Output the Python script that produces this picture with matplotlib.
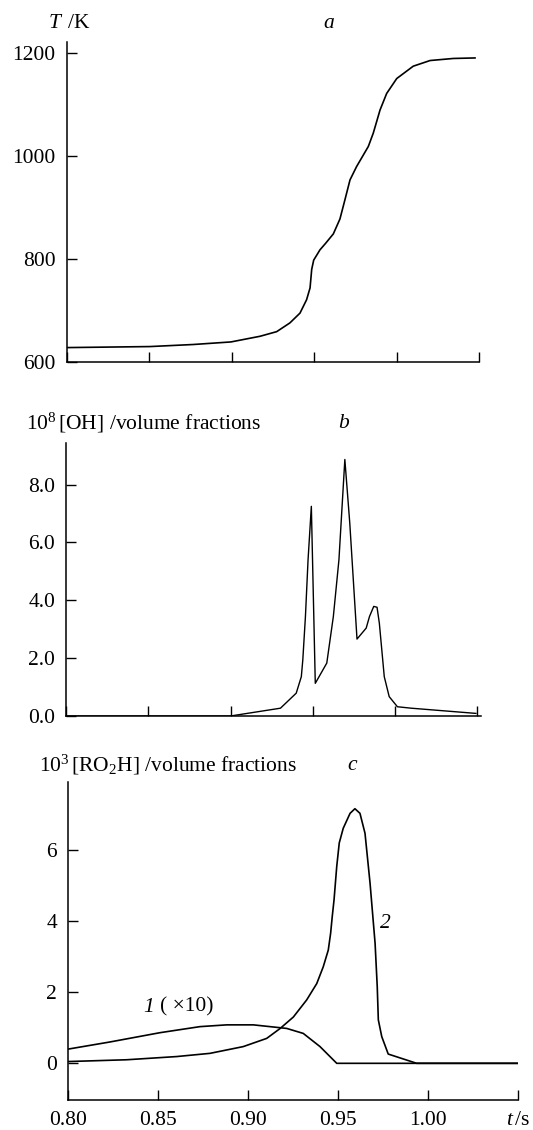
import matplotlib
matplotlib.use("Agg")
import matplotlib.pyplot as plt

# panel a: temperature
t_a = [0.800, 0.8505, 0.8767, 0.8996, 0.9172, 0.9273, 0.9353, 0.9414, 0.9454, 0.9475,
       0.9485, 0.9497, 0.9535, 0.9570, 0.9616, 0.9656, 0.9686, 0.9717, 0.9757, 0.9828,
       0.9858, 0.9899, 0.9939, 1.0000, 1.0100, 1.0202, 1.0343, 1.0474]
T_a = [628, 630, 634, 639, 650, 659, 676, 695, 721, 744,
       780, 798, 818, 831, 849, 878, 915, 954, 980, 1019,
       1045, 1090, 1122, 1151, 1175, 1186, 1190, 1191]

# panel b: OH
t_b = [0.80, 0.90, 0.9304, 0.9400, 0.9431, 0.9440, 0.9456, 0.9472, 0.9492, 0.9516,
       0.9586, 0.9626, 0.9660, 0.9696, 0.9726, 0.9770, 0.9826, 0.9846, 0.9872, 0.9892,
       0.9906, 0.9936, 0.9966, 1.0016, 1.010, 1.0494]
oh_b = [0.0, 0.0, 0.27, 0.79, 1.36, 1.94, 3.44, 5.40, 7.25, 1.13,
        1.83, 3.44, 5.40, 8.87, 6.67, 2.66, 3.04, 3.44, 3.79, 3.76,
        3.21, 1.36, 0.67, 0.32, 0.27, 0.09]

# panel c: RO2H, curve 1 (x10) and curve 2
t_c1 = [0.80, 0.8232, 0.8509, 0.8731, 0.888, 0.9028, 0.9213, 0.9305, 0.9398, 0.9491, 1.05]
ro2h_c1 = [0.40, 0.60, 0.86, 1.03, 1.08, 1.08, 0.98, 0.84, 0.47, 0.0, 0.0]
t_c2 = [0.80, 0.8324, 0.8602, 0.8787, 0.8972, 0.9102, 0.9177, 0.9250, 0.9324, 0.9380,
        0.9416, 0.9444, 0.9457, 0.9466, 0.9476, 0.9491, 0.9505, 0.9527, 0.9565, 0.9592,
        0.9620, 0.9648, 0.9676, 0.9704, 0.9716, 0.9722, 0.9741, 0.9777, 0.9935, 1.05]
ro2h_c2 = [0.05, 0.10, 0.19, 0.28, 0.47, 0.70, 0.98, 1.30, 1.78, 2.24,
           2.71, 3.18, 3.65, 4.12, 4.59, 5.53, 6.19, 6.60, 7.02, 7.15,
           7.02, 6.46, 5.06, 3.37, 2.15, 1.22, 0.75, 0.26, 0.0, 0.0]

x_ticks = [0.80, 0.85, 0.90, 0.95, 1.00, 1.05]
x_labels = ["0.80", "0.85", "0.90", "0.95", "1.00", "$t\\,$/s"]

plt.rcParams['font.family'] = ['Liberation Serif', 'DejaVu Serif']
plt.rcParams['mathtext.fontset'] = 'custom'
plt.rcParams['mathtext.rm'] = 'Liberation Serif'
plt.rcParams['mathtext.it'] = 'Liberation Serif:italic'
plt.rcParams['font.size'] = 15.5

W, H = 533, 1130
fig = plt.figure(figsize=(W / 100, H / 100), dpi=100)

def box(left, top, right, bottom):
    return [left / W, 1 - bottom / H, (right - left) / W, (bottom - top) / H]

def px(x, y):
    return x / W, 1 - y / H

def style(ax):
    for s in ("top", "right"):
        ax.spines[s].set_visible(False)
    for s in ("left", "bottom"):
        ax.spines[s].set_linewidth(1.1)
    ax.tick_params(direction="in", length=7, width=1.0, labelsize=15.5, pad=8)
    ax.set_xticks(x_ticks)

ax_a = fig.add_axes(box(66.5, 42, 479.3, 362))
ax_a.plot(t_a, T_a, color="black", lw=1.2)
ax_a.set_xlim(0.80, 1.05)
ax_a.set_ylim(600, 1222)
ax_a.set_yticks([600, 800, 1000, 1200])
style(ax_a)
ax_a.set_xticklabels([])

ax_b = fig.add_axes(box(66.3, 443, 481, 716))
ax_b.plot(t_b, oh_b, color="black", lw=1.0)
ax_b.set_xlim(0.80, 1.0525)
ax_b.set_ylim(0, 9.44)
ax_b.set_yticks([0, 2, 4, 6, 8])
ax_b.set_yticklabels(["0.0", "2.0", "4.0", "6.0", "8.0"])
style(ax_b)
ax_b.set_xticklabels([])

ax_c = fig.add_axes(box(68.3, 782, 518.4, 1100))
ax_c.plot(t_c1, ro2h_c1, color="black", lw=1.2)
ax_c.plot(t_c2, ro2h_c2, color="black", lw=1.2)
ax_c.set_xlim(0.80, 1.05)
ax_c.set_ylim(-1.03, 7.9)
ax_c.set_yticks([0, 2, 4, 6])
style(ax_c)
ax_c.set_xticklabels(x_labels)

# titles and axis captions
fig.text(*px(47.5, 24), "$T\\,$ /K", ha="left", va="center")
fig.text(*px(329, 24), "a", style="italic", ha="center", va="center")
fig.text(*px(25.5, 423), "10$^8\\,$[OH] /volume fractions", ha="left", va="center")
fig.text(*px(344, 423), "b", style="italic", ha="center", va="center")
fig.text(*px(39, 765), "10$^3\\,$[RO$_2$H] /volume fractions", ha="left", va="center")
fig.text(*px(352, 765), "c", style="italic", ha="center", va="center")
fig.text(*px(143, 1007), "1", style="italic", ha="left", va="center")
fig.text(*px(160, 1007), "( ×10)", ha="left", va="center")
fig.text(*px(385, 923), "2", style="italic", ha="center", va="center")

fig.savefig("out.png", dpi=100)
